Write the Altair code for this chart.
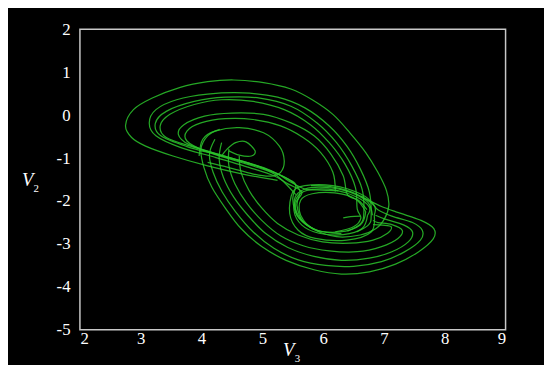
import altair as alt
import pandas as pd

# ---- traced trajectory pieces (V3, V2) ----
A_x = [5.25, 4.68, 4.10, 3.53, 3.08, 2.85, 2.75, 2.88, 3.19, 3.65, 4.10, 4.53, 5.02, 5.47, 5.82, 6.16, 6.44, 6.70, 6.90, 7.04, 7.08, 7.01, 6.87, 6.61, 6.22, 5.82, 5.59, 5.53, 5.70, 6.04, 6.44, 6.73, 6.81]
A_y = [-1.52, -1.37, -1.18, -0.95, -0.72, -0.52, -0.24, 0.13, 0.40, 0.65, 0.78, 0.82, 0.76, 0.61, 0.36, 0.02, -0.41, -0.87, -1.33, -1.75, -2.10, -2.41, -2.64, -2.79, -2.83, -2.64, -2.33, -1.95, -1.72, -1.68, -1.79, -2.02, -2.33]

U1_x = [6.55, 6.75, 6.79, 6.76, 6.61, 6.39, 6.10, 5.70, 5.25, 4.68, 4.10, 3.59, 3.25, 3.14, 3.25, 3.65, 4.22, 4.79, 5.19, 5.42, 5.65, 5.55, 5.60, 5.90, 6.30]
U1_y = [-2.72, -2.55, -2.33, -1.79, -1.25, -0.72, -0.25, 0.17, 0.42, 0.52, 0.49, 0.36, 0.13, -0.18, -0.48, -0.75, -0.98, -1.22, -1.41, -1.60, -1.79, -2.05, -2.40, -2.68, -2.76]

U2_x = [6.40, 6.62, 6.67, 6.64, 6.47, 6.22, 5.90, 5.47, 4.96, 4.39, 3.88, 3.42, 3.24, 3.33, 3.76, 4.33, 4.90, 5.25, 5.47, 5.70, 5.90, 6.25]
U2_y = [-2.70, -2.52, -2.25, -1.72, -1.18, -0.64, -0.18, 0.21, 0.40, 0.42, 0.32, 0.09, -0.19, -0.48, -0.73, -0.95, -1.18, -1.37, -1.56, -1.72, -1.74, -1.76]

U3_x = [6.20, 6.50, 6.62, 6.56, 6.53, 6.36, 6.10, 5.79, 5.36, 4.85, 4.33, 3.88, 3.48, 3.32, 3.42, 3.88, 4.45, 5.02, 5.33, 5.53, 5.62, 5.57, 5.68, 5.95]
U3_y = [-2.72, -2.60, -2.40, -2.18, -1.68, -1.14, -0.64, -0.22, 0.13, 0.32, 0.36, 0.25, 0.02, -0.25, -0.52, -0.75, -0.98, -1.22, -1.42, -1.60, -1.78, -2.10, -2.50, -2.72]

U4_x = [6.72, 6.58, 6.40, 6.33, 6.13, 5.85, 5.47, 5.02, 4.50, 4.05, 3.71, 3.62, 3.79, 4.22, 4.79, 5.19, 5.47, 5.55, 5.50, 5.58, 5.85]
U4_y = [-2.20, -1.98, -1.85, -1.41, -0.91, -0.48, -0.18, 0.02, 0.05, -0.02, -0.22, -0.45, -0.68, -0.89, -1.12, -1.33, -1.52, -1.65, -1.95, -2.35, -2.66]

U5_x = [6.20, 6.16, 5.96, 5.67, 5.30, 4.85, 4.39, 3.99, 3.76, 3.76, 4.05, 4.56, 5.08, 5.25, 5.40, 5.55]
U5_y = [-1.78, -1.33, -0.87, -0.52, -0.25, -0.10, -0.08, -0.18, -0.37, -0.60, -0.83, -1.06, -1.29, -1.42, -1.62, -1.85]

U6_x = [3.96, 4.02, 4.22, 4.62, 5.02, 5.28, 5.36, 5.30, 5.13, 4.85, 4.45, 4.10]
U6_y = [-0.95, -0.56, -0.37, -0.29, -0.41, -0.72, -1.06, -1.33, -1.42, -1.37, -1.22, -1.10]

S_x = [4.33, 4.42, 4.56, 4.73, 4.88, 4.82, 4.62, 4.45]
S_y = [-0.95, -0.79, -0.64, -0.62, -0.83, -0.95, -0.93, -0.83]

L1_x = [6.73, 6.64, 6.33, 5.93, 5.65, 5.52, 5.59, 5.82, 6.22, 6.56, 6.76, 6.73]
L1_y = [-2.33, -2.64, -2.78, -2.75, -2.56, -2.22, -1.87, -1.73, -1.75, -1.91, -2.14, -2.33]

L2_x = [6.70, 6.61, 6.27, 5.85, 5.63, 5.63, 5.82, 6.19, 6.53, 6.70]
L2_y = [-2.25, -2.56, -2.72, -2.65, -2.33, -1.98, -1.83, -1.81, -1.95, -2.25]

L3_x = [6.84, 6.79, 6.39, 5.87, 5.59, 5.45, 5.50, 5.70, 6.16, 6.61, 6.84, 6.84]
L3_y = [-2.33, -2.72, -2.91, -2.87, -2.68, -2.29, -1.79, -1.64, -1.64, -1.83, -2.10, -2.33]

T_x = [6.33, 6.45, 6.61]
T_y = [-2.39, -2.36, -2.35]

D1_x = [4.30, 4.10, 3.99, 4.04, 4.17, 4.38, 4.65, 4.99, 5.39, 5.85, 6.30, 6.76, 7.19, 7.56, 7.81, 7.82, 7.61, 7.24, 6.95, 6.70, 6.45, 6.10, 5.80]
D1_y = [-0.33, -0.48, -0.79, -1.22, -1.68, -2.14, -2.64, -3.06, -3.38, -3.60, -3.70, -3.65, -3.47, -3.19, -2.88, -2.64, -2.45, -2.27, -2.12, -1.95, -1.78, -1.66, -1.64]

D2_x = [4.22, 4.13, 4.19, 4.34, 4.56, 4.85, 5.19, 5.59, 6.04, 6.50, 6.96, 7.33, 7.60, 7.63, 7.47, 7.13, 6.90, 6.80, 6.62]
D2_y = [-0.56, -0.91, -1.33, -1.79, -2.25, -2.72, -3.10, -3.37, -3.50, -3.52, -3.41, -3.19, -2.91, -2.68, -2.50, -2.35, -2.20, -2.05, -1.88]

D3_x = [4.33, 4.29, 4.36, 4.53, 4.76, 5.05, 5.42, 5.85, 6.30, 6.76, 7.13, 7.40, 7.47, 7.33, 7.02, 6.86]
D3_y = [-0.64, -1.02, -1.45, -1.91, -2.33, -2.75, -3.08, -3.29, -3.38, -3.33, -3.18, -2.95, -2.72, -2.56, -2.42, -2.33]

D4_x = [4.45, 4.45, 4.55, 4.74, 4.99, 5.30, 5.67, 6.10, 6.56, 6.96, 7.23, 7.30, 7.13, 6.90, 6.82]
D4_y = [-0.79, -1.18, -1.60, -2.04, -2.45, -2.81, -3.04, -3.16, -3.18, -3.06, -2.87, -2.68, -2.55, -2.50, -2.45]

D5_x = [4.62, 4.65, 4.78, 4.99, 5.25, 5.59, 5.99, 6.44, 6.82, 7.06, 7.12, 6.98, 6.82]
D5_y = [-0.95, -1.33, -1.75, -2.16, -2.52, -2.79, -2.95, -2.98, -2.91, -2.75, -2.60, -2.56, -2.55]

x_ticks = [2, 3, 4, 5, 6, 7, 8, 9]
y_ticks = [-5, -4, -3, -2, -1, 0, 1, 2]

pieces = {
    "A": (A_x, A_y), "U1": (U1_x, U1_y), "U2": (U2_x, U2_y), "U3": (U3_x, U3_y),
    "U4": (U4_x, U4_y), "U5": (U5_x, U5_y), "U6": (U6_x, U6_y), "S": (S_x, S_y),
    "L1": (L1_x, L1_y), "L2": (L2_x, L2_y), "L3": (L3_x, L3_y), "T": (T_x, T_y),
    "D1": (D1_x, D1_y), "D2": (D2_x, D2_y), "D3": (D3_x, D3_y), "D4": (D4_x, D4_y),
    "D5": (D5_x, D5_y),
}
rows = []
for name, (xs, ys) in pieces.items():
    for i, (xv, yv) in enumerate(zip(xs, ys)):
        rows.append({"piece": name, "i": i, "V3": xv, "V2": yv})
df = pd.DataFrame(rows)

serif = "Liberation Serif"
label_expr = "datum.value < 0 ? '-' + abs(datum.value) : '' + datum.value"

lines = alt.Chart(df).mark_line(
    interpolate="cardinal", stroke="#2cc42c", strokeWidth=1.25, opacity=0.85, clip=True
).encode(
    x=alt.X("V3:Q", scale=alt.Scale(domain=[2, 9], nice=False, zero=False),
            axis=alt.Axis(values=x_ticks, title=None, labelExpr=label_expr,
                          labelPadding=1, labelFont=serif, labelFontSize=17,
                          labelColor="white")),
    y=alt.Y("V2:Q", scale=alt.Scale(domain=[-5, 2], nice=False, zero=False),
            axis=alt.Axis(values=y_ticks, title=None, labelExpr=label_expr,
                          labelPadding=10, labelFont=serif, labelFontSize=17,
                          labelColor="white")),
    detail="piece:N",
    order="i:Q",
)

def txt(s, x, y, size, italic, align):
    return alt.Chart(pd.DataFrame({"t": [s]})).mark_text(
        font=serif, fontSize=size, color="white",
        fontStyle="italic" if italic else "normal", align=align, baseline="middle"
    ).encode(text="t:N", x=alt.value(x), y=alt.value(y))

titles = (
    txt("V", 212, 326, 19, True, "center") + txt("3", 218, 335, 11, False, "left")
    + txt("V", -53, 153, 19, True, "center") + txt("2", -47, 162, 11, False, "left")
)

chart = alt.layer(lines, titles).properties(
    width=432, height=305,
    autosize=alt.AutoSizeParams(type="none"),
    padding={"left": 73, "top": 19, "right": 39, "bottom": 33},
    background="black",
).configure_view(
    fill="black", stroke="#c8c8c8", strokeWidth=1.5
).configure_axis(
    grid=False, ticks=False, domain=False
)

chart.save("out.html", embed_options={"renderer": "svg", "actions": False})
